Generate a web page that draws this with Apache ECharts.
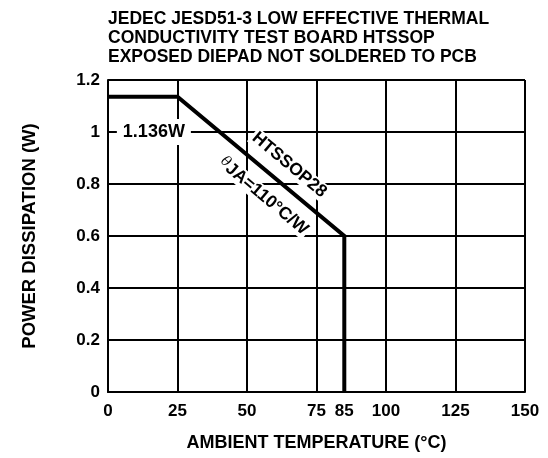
<!DOCTYPE html>
<html>
<head>
<meta charset="utf-8">
<script src="https://cdn.jsdelivr.net/npm/echarts@6/dist/echarts.min.js"></script>
<style>
html,body{margin:0;padding:0;background:#fff;}
#chart{width:548px;height:458px;}
</style>
</head>
<body>
<div id="chart"></div>
<script>
// ---- data ----
const titleLines = ['JEDEC JESD51-3 LOW EFFECTIVE THERMAL', 'CONDUCTIVITY TEST BOARD HTSSOP', 'EXPOSED DIEPAD NOT SOLDERED TO PCB'];
const xTickLabels = [0, 25, 50, 75, 85, 100, 125, 150];
const temperatureC = [0, 25, 85, 85];
const powerW = [1.136, 1.136, 0.6, 0];
const xName = 'AMBIENT TEMPERATURE (°C)';
const yName = 'POWER DISSIPATION (W)';
const annoLabels = ['1.136W', 'HTSSOP28', '{t|θ}{n|JA=110°C/W}'];
const annoX = [16.5, 65.2, 55.9];
const annoY = [1.0, 0.873, 0.753];
const annoRotate = [0, -40, -40];

const FONT = '"Liberation Sans", Arial, sans-serif';
const chart = echarts.init(document.getElementById('chart'));

const markData = annoLabels.map((t, i) => ({
  coord: [annoX[i], annoY[i]],
  label: {
    formatter: t,
    rotate: annoRotate[i],
    fontSize: i === 0 ? 18 : 17.5,
    lineHeight: i === 0 ? 22 : 18,
    padding: i === 0 ? [2, 6, 2, 6] : [0, 2, 0, 2]
  }
}));

chart.setOption({
  backgroundColor: '#fff',
  animation: false,
  title: {
    text: titleLines.join('\n'),
    left: 103,
    top: 5,
    textStyle: { fontFamily: FONT, fontSize: 17.5, fontWeight: 'bold', lineHeight: 19, color: '#000' }
  },
  grid: { left: 108, right: 23, top: 80, bottom: 66, containLabel: false },
  xAxis: {
    type: 'value', min: 0, max: 150, interval: 25,
    name: xName, nameLocation: 'middle', nameGap: 42,
    nameTextStyle: { fontFamily: FONT, fontSize: 18, fontWeight: 'bold', color: '#000' },
    axisLine: { show: true, lineStyle: { color: '#000', width: 2 } },
    axisTick: { show: false },
    axisLabel: { customValues: xTickLabels, margin: 11, fontFamily: FONT, fontSize: 17, fontWeight: 'bold', color: '#000' },
    splitLine: { show: true, lineStyle: { color: '#000', width: 2 } }
  },
  yAxis: {
    type: 'value', min: 0, max: 1.2, interval: 0.2,
    name: yName, nameLocation: 'middle', nameGap: 69,
    nameTextStyle: { fontFamily: FONT, fontSize: 18.5, fontWeight: 'bold', color: '#000' },
    axisLine: { show: true, lineStyle: { color: '#000', width: 2 } },
    axisTick: { show: false },
    axisLabel: { margin: 8, fontFamily: FONT, fontSize: 17, fontWeight: 'bold', color: '#000',
      formatter: v => String(+v.toFixed(1)) },
    splitLine: { show: true, lineStyle: { color: '#000', width: 2 } }
  },
  series: [{
    type: 'line',
    z: 3,
    data: temperatureC.map((x, i) => [x, powerW[i]]),
    showSymbol: false, symbol: 'none',
    lineStyle: { color: '#000', width: 4, join: 'miter', cap: 'butt' },
    markPoint: {
      symbol: 'circle', symbolSize: 0,
      label: {
        show: true, position: 'inside',
        fontFamily: FONT, fontSize: 18, fontWeight: 'bold', color: '#000',
        backgroundColor: '#fff',
        rich: {
          t: { fontFamily: '"DejaVu Serif", serif', fontStyle: 'italic', fontWeight: 'normal', fontSize: 14, color: '#000', verticalAlign: 'top', lineHeight: 18 },
          n: { fontFamily: FONT, fontSize: 17.5, fontWeight: 'bold', color: '#000', lineHeight: 18 }
        }
      },
      data: markData
    }
  }]
});
</script>
</body>
</html>
